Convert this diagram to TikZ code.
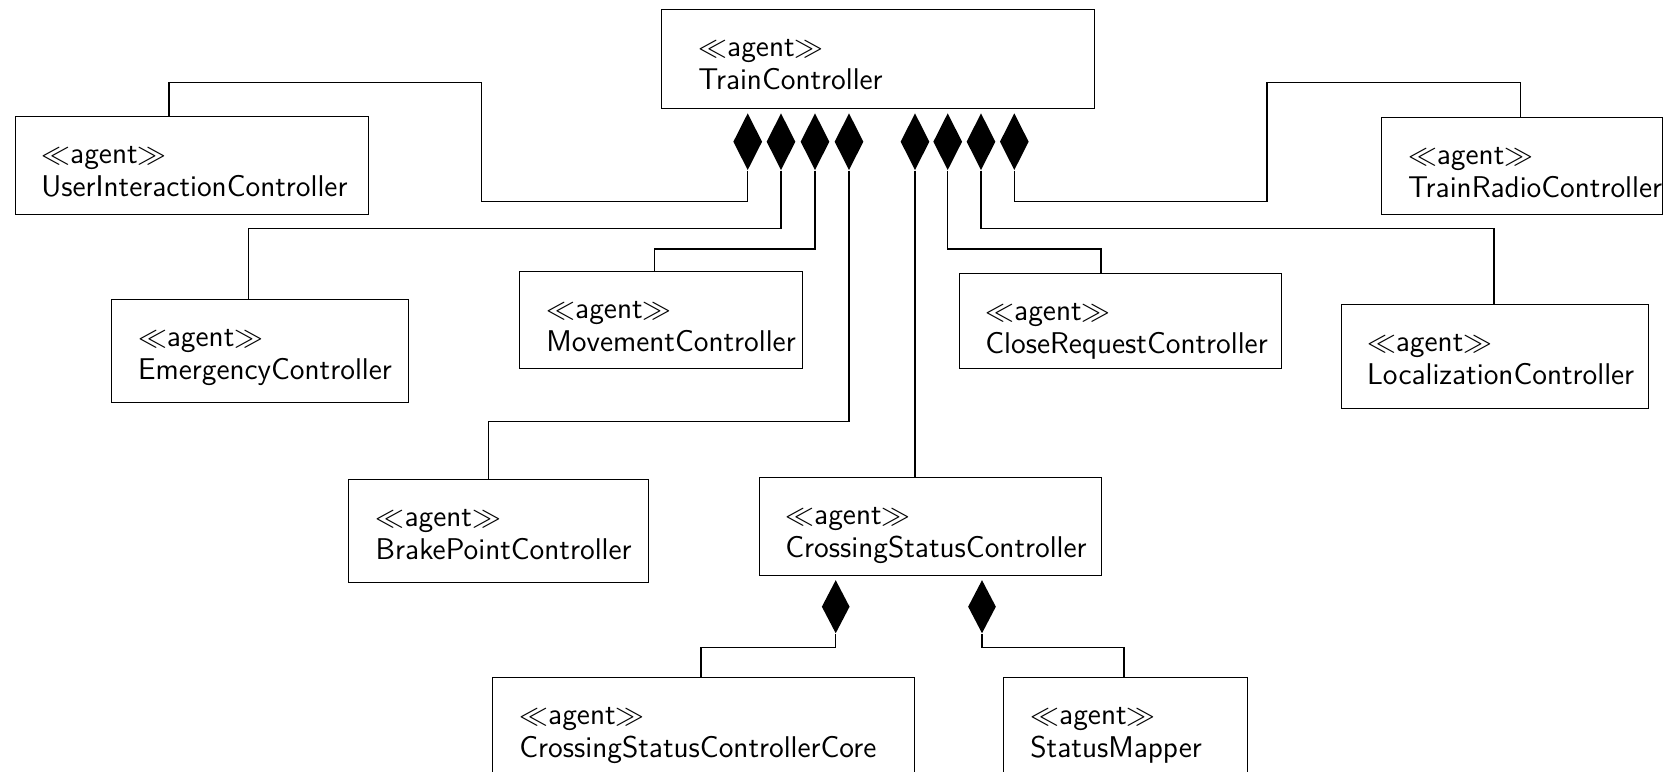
\documentclass[tikz,border=0pt]{standalone}
\usepackage{fontspec}
\usetikzlibrary{calc,shapes.geometric}

% one drawing unit = one pixel of the layout grid
\newcommand\stereo[1]{\begin{tabular}[t]{@{}l@{}}$\ll$agent$\gg$\\#1\end{tabular}}
% name, left, top, right, bottom, class name, text indent
\newcommand\agentbox[7]{%
  \node[agent, anchor=north west,
        minimum width={(#4-#2)*0.5pt}, minimum height={(#5-#3)*0.5pt}] (#1) at (#2,#3) {};
  \node[lbl] (#1-t) at ($(#1.north west)+(#7,47.5)$) {\stereo{#6}};
}

\tikzset{
  agent/.style={draw, line width=0.55pt, inner sep=0pt, fill=white},
  lbl/.style={anchor=base west, inner sep=0pt, font=\sffamily\fontsize{15}{16.5}\selectfont},
  comp/.style={diamond, fill=black, draw=none, inner sep=0pt,
               minimum width=14.5pt, minimum height=28.5pt},
  compsmall/.style={comp, minimum width=14pt, minimum height=26.7pt},
  conn/.style={line width=0.55pt},
}

\begin{document}
\begin{tikzpicture}[x=0.5pt, y=-0.5pt]
  \useasboundingbox (0,0) rectangle (1663,771);
  \clip (0,0) rectangle (1663,771);

  % classes
  \agentbox{tc}{661}{9.3}{1094}{108}{TrainController}{37}
  \agentbox{uic}{15}{115.7}{368}{214.3}{UserInteractionController}{26}
  \agentbox{trc}{1380.7}{116.7}{1661.7}{214.3}{TrainRadioController}{27}
  \agentbox{ec}{110.7}{299.3}{408.3}{401.7}{EmergencyController}{27}
  \agentbox{mc}{519}{271}{801.7}{368.3}{MovementController}{27}
  \agentbox{crc}{959}{273.3}{1280.7}{368.3}{CloseRequestController}{26}
  \agentbox{lc}{1340.7}{304}{1647.7}{408}{LocalizationController}{26}
  \agentbox{bpc}{348.3}{479.3}{648.3}{581.7}{BrakePointController}{27}
  \agentbox{csc}{759}{477.3}{1101}{575}{CrossingStatusController}{26}
  \agentbox{core}{492}{677}{914}{777}{CrossingStatusControllerCore}{27}
  \agentbox{sm}{1003}{677}{1247}{777}{StatusMapper}{27}

  % composition diamonds under TrainController
  \node[comp] (d1) at (747.7,141.7) {};
  \node[comp] (d2) at (781,141.7) {};
  \node[comp] (d3) at (815,141.7) {};
  \node[comp] (d4) at (849,141.7) {};
  \node[comp] (d5) at (915,141.7) {};
  \node[comp] (d6) at (947.7,141.7) {};
  \node[comp] (d7) at (981,141.7) {};
  \node[comp] (d8) at (1014.3,141.7) {};
  % composition diamonds under CrossingStatusController
  \node[compsmall] (c1) at (835.7,606.7) {};
  \node[compsmall] (c2) at (982,606.7) {};

  % connectors
  \draw[conn] (d1.south) |- (481.7,201.7) |- (169,82.3) -- (169,0 |- uic.north);
  \draw[conn] (d2.south) |- (248.3,228.7) -- (248.3,0 |- ec.north);
  \draw[conn] (d3.south) |- (654.3,249) -- (654.3,0 |- mc.north);
  \draw[conn] (d4.south) |- (488.3,421.7) -- (488.3,0 |- bpc.north);
  \draw[conn] (d5.south) -- (d5.south |- csc.north);
  \draw[conn] (d6.south) |- (1101,249) -- (1101,0 |- crc.north);
  \draw[conn] (d7.south) |- (1494,228.7) -- (1494,0 |- lc.north);
  \draw[conn] (d8.south) |- (1267,201.7) |- (1520.7,82.3) -- (1520.7,0 |- trc.north);
  \draw[conn] (c1.south) |- (701,647.7) -- (701,0 |- core.north);
  \draw[conn] (c2.south) |- (1124,647.7) -- (1124,0 |- sm.north);
\end{tikzpicture}
\end{document}
